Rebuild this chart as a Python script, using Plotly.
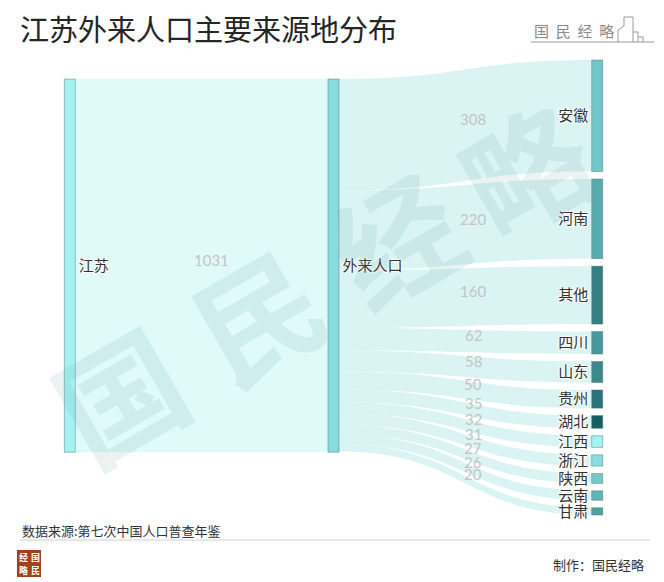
import plotly.graph_objects as go

# ---------------- data ----------------
node_labels = ["江苏", "外来人口", "安徽", "河南", "其他", "四川", "山东", "贵州",
               "湖北", "江西", "浙江", "陕西", "云南", "甘肃"]
total_value = 1031
provinces = ["安徽", "河南", "其他", "四川", "山东", "贵州", "湖北", "江西",
             "浙江", "陕西", "云南", "甘肃"]
province_values = [308, 220, 160, 62, 58, 50, 35, 32, 31, 27, 26, 20]

node_colors = ["#a2f2f2", "#88dcdc", "#72c6c8", "#5aabad", "#347f82", "#48999b",
               "#3a8a8c", "#29747a", "#155f63", "#a2f3f3", "#8adcdd", "#75c9cb",
               "#60b4b6", "#4da1a3"]

W, H = 664, 582
FONT = "Noto Sans CJK SC"

# ---------------- layout geometry (pixels) ----------------
X_LEFT, X_RIGHT = 69.5, 597.5        # node centre x of first/last column
Y_TOP, Y_BOT = 60, 515               # vertical extent of sankey
THICK = 11
PAD = 7.5
HGT = Y_BOT - Y_TOP
ky = (HGT - PAD * (len(province_values) - 1)) / sum(province_values)
SRC_TOP = 79                          # top of 江苏 / 外来人口 nodes

# node centres
src_center = SRC_TOP + total_value * ky / 2
tgt_tops = []
y = Y_TOP
for v in province_values:
    tgt_tops.append(y)
    y += v * ky + PAD
tgt_centers = [t + v * ky / 2 for t, v in zip(tgt_tops, province_values)]

node_x = [0.0005, 0.5, *([0.9995] * len(provinces))]
node_y = [(src_center - Y_TOP) / HGT, (src_center - Y_TOP) / HGT] + \
         [(c - Y_TOP) / HGT for c in tgt_centers]

src = [0] + [1] * len(provinces)
tgt = [1] + [node_labels.index(p) for p in provinces]
vals = [total_value] + province_values
link_colors = ["rgba(160,240,240,0.33)"] + ["rgba(136,218,218,0.31)"] * len(provinces)

fig = go.Figure()
fig.add_trace(go.Sankey(
    domain=dict(x=[X_LEFT / W, X_RIGHT / W], y=[1 - Y_BOT / H, 1 - Y_TOP / H]),
    arrangement="snap",
    node=dict(label=node_labels, color=node_colors, thickness=THICK, pad=PAD,
              x=node_x, y=node_y,
              line=dict(color="rgba(80,110,110,0.55)", width=0.8),
              hoverinfo="none"),
    link=dict(source=src, target=tgt, value=vals, color=link_colors,
              hoverinfo="none"),
    textfont=dict(family=FONT, size=15, color="#333333"),
))

# overlay axes in pixel coordinates for decorations
fig.add_trace(go.Scatter(x=[0, W], y=[0, H], mode="markers",
                         marker=dict(opacity=0), hoverinfo="skip", showlegend=False))

ann = []
shapes = []

# link value labels
mid_x1 = (X_LEFT + THICK / 2 + 333.5 - THICK / 2) / 2 + 10
ann.append(dict(x=mid_x1, y=src_center - 6, text=str(total_value), showarrow=False,
                font=dict(family="Lato", size=15, color="#c4c4c4"),
                xref="x", yref="y"))
cum = 0
lab_x = 473
for v, tc in zip(province_values, tgt_centers):
    sc = SRC_TOP + cum * ky + v * ky / 2
    cum += v
    yy = (sc + tc) / 2 - 6
    ann.append(dict(x=lab_x, y=yy, text=str(v), showarrow=False,
                    font=dict(family="Lato", size=15, color="#c4c4c4"),
                    xref="x", yref="y"))

# watermark
for ch, (cx, cy) in zip("国民经略", [(118, 392), (256, 312), (394, 236), (524, 166)]):
    ann.append(dict(x=cx, y=cy, text=ch, showarrow=False, textangle=-30,
                    font=dict(family=FONT, size=124, color="rgba(110,160,160,0.14)", weight="bold"),
                    xref="x", yref="y"))

# title
ann.append(dict(x=18, y=28, text="江苏外来人口主要来源地分布", showarrow=False,
                xanchor="left", yanchor="middle",
                font=dict(family=FONT, size=29, color="#262626"), xref="x", yref="y"))

# top-right logo
ann.append(dict(x=574, y=30, text="国&nbsp;&nbsp;民&nbsp;&nbsp;经&nbsp;&nbsp;略", showarrow=False,
                font=dict(family=FONT, size=15, color="#8a8a8a"), xref="x", yref="y"))
shapes.append(dict(type="line", x0=531, x1=654, y0=42, y1=42, xref="x", yref="y",
                   line=dict(color="#9a9a9a", width=1)))
shapes.append(dict(type="path", xref="x", yref="y",
                   path="M 618 42 L 618 30 L 624 26 L 624 17 L 633 17 L 633 42 M 633 32 L 638 32 L 638 42 M 638 37 L 643 37 L 643 42",
                   line=dict(color="#9a9a9a", width=1)))

# footer
ann.append(dict(x=20, y=530, text="数据来源:第七次中国人口普查年鉴", showarrow=False,
                xanchor="left", font=dict(family=FONT, size=13, color="#333333"),
                xref="x", yref="y"))
shapes.append(dict(type="line", x0=20, x1=650, y0=540, y1=540, xref="x", yref="y",
                   line=dict(color="#d0d0d0", width=1)))
ann.append(dict(x=646, y=564, text="制作：国民经略", showarrow=False,
                xanchor="right", font=dict(family=FONT, size=13, color="#333333"),
                xref="x", yref="y"))
shapes.append(dict(type="rect", x0=17, x1=41, y0=550, y1=577, xref="x", yref="y",
                   fillcolor="#a3401d", line=dict(width=0)))
for ch, (cx, cy) in zip("经国略民", [(23, 557), (35, 557), (23, 570), (35, 570)]):
    ann.append(dict(x=cx, y=cy, text=ch, showarrow=False,
                    font=dict(family=FONT, size=9, color="white", weight="bold"),
                    xref="x", yref="y"))

fig.update_layout(
    width=W, height=H, margin=dict(l=0, r=0, t=0, b=0),
    paper_bgcolor="white", plot_bgcolor="rgba(0,0,0,0)",
    xaxis=dict(range=[0, W], visible=False, fixedrange=True, domain=[0, 1]),
    yaxis=dict(range=[H, 0], visible=False, fixedrange=True, domain=[0, 1]),
    annotations=ann, shapes=shapes, showlegend=False,
)
fig.write_html("out.html")
